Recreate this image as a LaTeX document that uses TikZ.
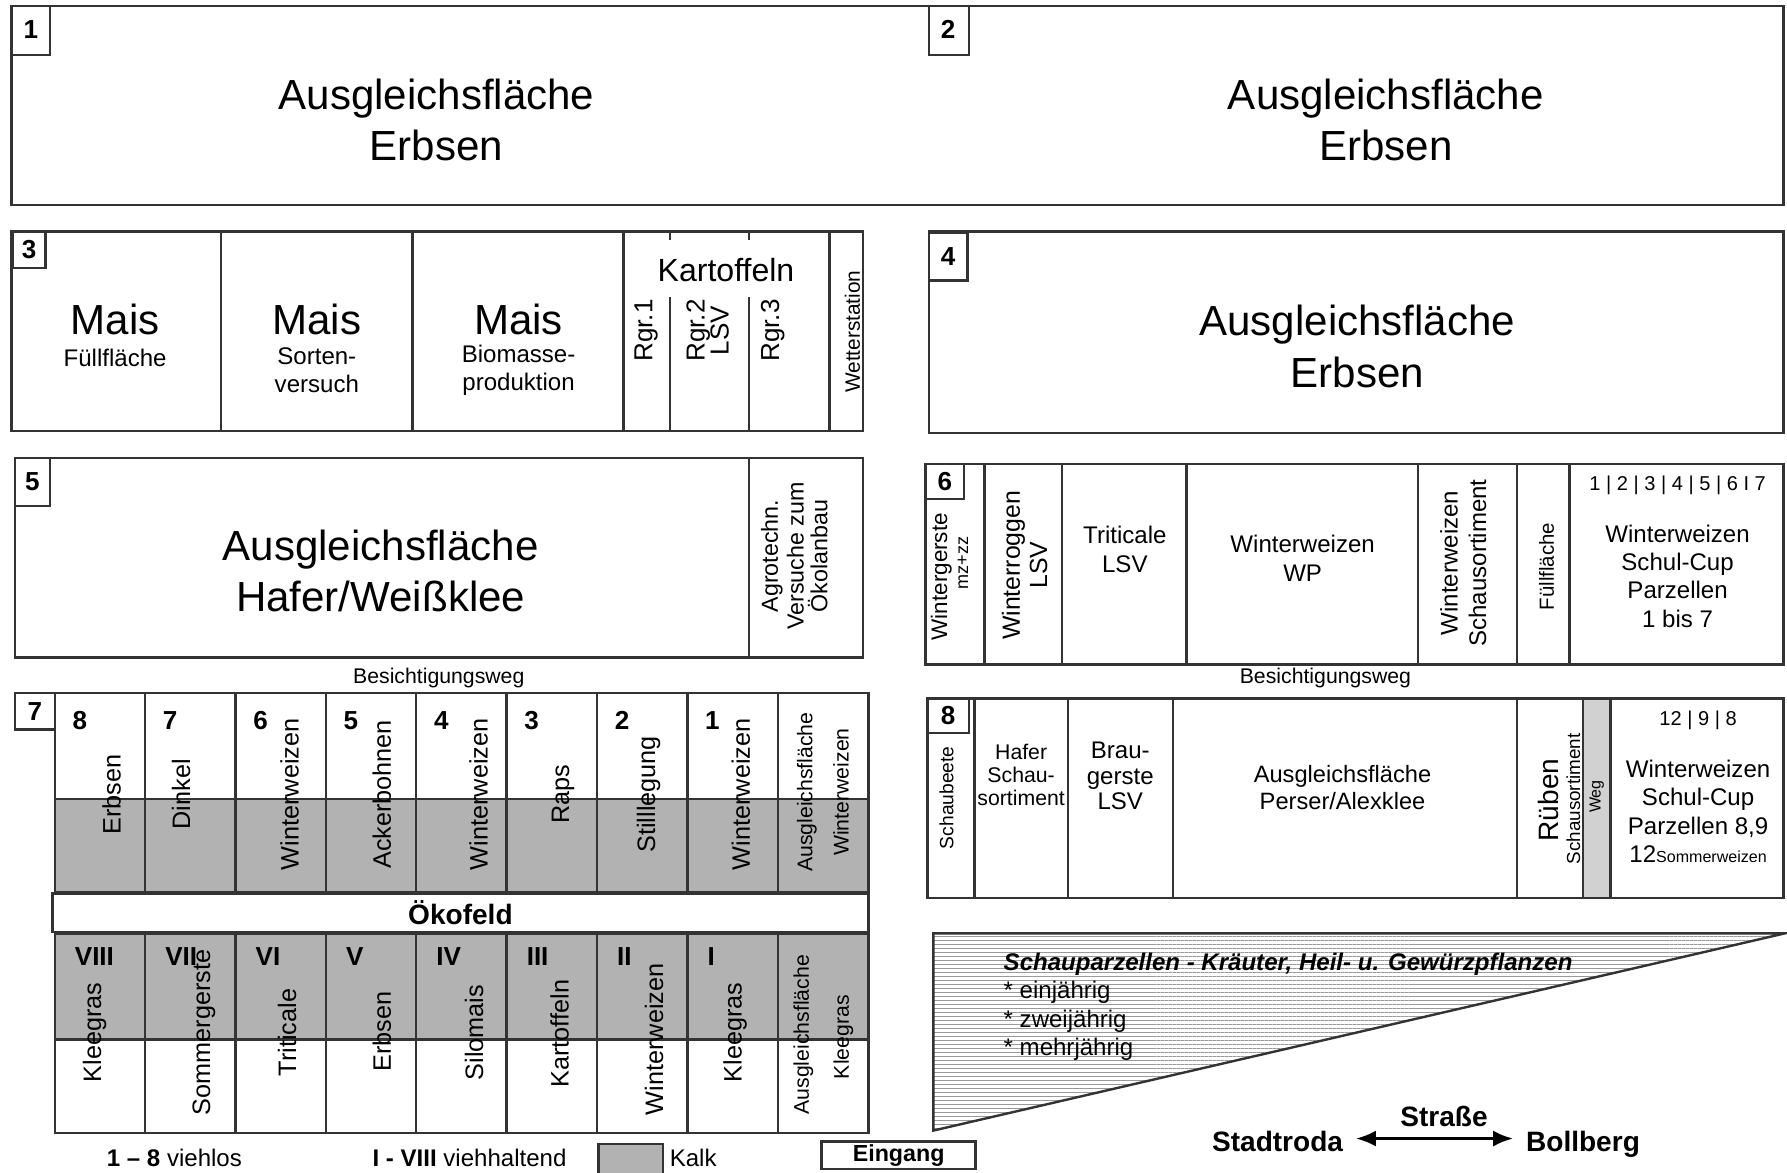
\documentclass[tikz,border=0pt]{standalone}
\usepackage{fontspec}
\setmainfont{Liberation Sans}
\usetikzlibrary{arrows.meta, patterns.meta}
\newcommand{\fsz}[2]{\fontsize{#1}{#2}\selectfont}

\begin{document}
\begin{tikzpicture}[x=0.01cm, y=-0.01cm,
  feld/.style={draw=black!80, line width=0.6pt},
  big/.style={font=\fsz{10.5}{12.8}, align=center, inner sep=0pt},
  txt/.style={font=\fsz{6}{7.1}, align=center, inner sep=0pt},
  vtxt/.style={txt, rotate=90},
  crop/.style={font=\fsz{6.3}{7}, rotate=90, inner sep=0pt},
  lbl/.style={font=\bfseries\fsz{6.5}{7}, inner sep=0pt},
  ort/.style={font=\bfseries\fsz{7}{8}, inner sep=3pt, text height=1.6ex, text depth=0.4ex}]

\useasboundingbox (0,0) rectangle (1568,1029);

% 1 and 2
\draw[feld] (10,5) rectangle (1565,180);
\draw[feld] (10,5) rectangle (44,48);
\node[lbl] (l1) at (27,26) {1};
\draw[feld] (815,5) rectangle (850,48);
\node[lbl] (l2) at (832,26) {2};
\node[big] (f1) at (383,105) {Ausgleichsfläche\\Erbsen};
\node[big] (f2) at (1216,105) {Ausgleichsfläche\\Erbsen};

% 3
\draw[feld] (10,203) rectangle (757,378);
\foreach \x in {194,362,547,728} \draw[feld] (\x,203) -- (\x,378);
\foreach \x in {588,657} {
  \draw[feld] (\x,203) -- (\x,211);
  \draw[feld] (\x,261) -- (\x,378);
}
\draw[feld] (11,203) rectangle (40,235);
\node[lbl] (l3) at (25.5,219) {3};
\node[big] (m1) at (101,280) {Mais};
\node[txt] (m1s) at (101,314) {Füllfläche};
\node[big] (m2) at (278,280) {Mais};
\node[txt] (m2s) at (278,325) {Sorten-\\versuch};
\node[big] (m3) at (455,280) {Mais};
\node[txt] (m3s) at (455,325) {Biomasse-\\produktion};
\node[font=\fsz{8}{9}, inner sep=0pt] (kart) at (637,237) {Kartoffeln};
\node[vtxt, font=\fsz{6.5}{6}] (rg1) at (567,290) {Rgr.1};
\node[vtxt, font=\fsz{6.5}{6}] (rg2) at (621,290) {Rgr.2\\LSV};
\node[vtxt, font=\fsz{6.5}{6}] (rg3) at (678,290) {Rgr.3};
\node[vtxt, font=\fsz{5.2}{6}] (wst) at (748,291) {Wetterstation};

% 4
\draw[feld] (815,203) rectangle (1565,380);
\draw[feld] (815,204) rectangle (849,246);
\node[lbl] (l4) at (832,225) {4};
\node[big] (f4) at (1191,304) {Ausgleichsfläche\\Erbsen};

% 5
\draw[feld] (13,402) rectangle (757,577);
\draw[feld] (657,402) -- (657,577);
\draw[feld] (13,402) rectangle (44,444);
\node[lbl] (l5) at (28.5,423) {5};
\node[big] (f5) at (334,501) {Ausgleichsfläche\\Hafer/Weißklee};
\node[vtxt, font=\fsz{5.8}{4.9}] (agro) at (697,488) {Agrotechn.\\Versuche zum\\Ökolanbau};

% 6
\draw[feld] (812,407) rectangle (1565,583);
\foreach \x in {864,932,1041,1244,1331,1377} \draw[feld] (\x,407) -- (\x,583);
\draw[feld] (812,407) rectangle (846,438);
\node[lbl] (l6) at (829,422.5) {6};
\node[vtxt, font=\fsz{5.6}{6}] (wg) at (826,506) {Wintergerste};
\node[vtxt, font=\fsz{4.5}{5}] (mz) at (845,494) {mz+zz};
\node[vtxt, font=\fsz{6.2}{6.8}] (wr) at (899,496) {Winterroggen\\LSV};
\node[txt] (tr) at (987,482) {Triticale\\LSV};
\node[txt] (wp) at (1143,490) {Winterweizen\\WP};
\node[vtxt, font=\fsz{6}{7.1}] (wsa) at (1284,494) {Winterweizen\\Schausortiment};
\node[vtxt, font=\fsz{5.1}{6}] (ff6) at (1357,497) {Füllfläche};
\node[txt, font=\fsz{5}{6}] (p17) at (1472,426) {1 | 2 | 3 | 4 | 5 | 6 I 7};
\node[txt] (sc6) at (1472,505.5) {Winterweizen\\Schul-Cup\\Parzellen\\1 bis 7};

% Wege
\node[txt, font=\fsz{5.3}{6}] (bw1) at (385,595) {Besichtigungsweg};
\node[txt, font=\fsz{5.3}{6}] (bw2) at (1163,595) {Besichtigungsweg};

% 7 Oekofeld
\fill[black!30] (48,701) rectangle (762,783);
\fill[black!30] (48,819) rectangle (762,912);
\draw[feld] (48,608) rectangle (762,994);
\foreach \i in {1,...,8} \draw[feld] ({48+79.3*\i},608) -- ({48+79.3*\i},994);
\foreach \y in {701,783,819,912} \draw[feld] (48,\y) -- (762,\y);
\draw[feld, fill=white] (46,784) rectangle (762,818);
\node[font=\bfseries\fsz{7}{8}, inner sep=0pt] (oeko) at (404,801) {Ökofeld};
\draw[feld] (13,608) rectangle (48,640);
\node[lbl] (l7) at (30.5,624) {7};
\foreach \n [count=\i from 0] in {8,7,6,5,4,3,2,1}
  \node[lbl] (a\n) at ({70+79.3*\i},632) {\n};
\foreach \x/\t [count=\i] in {98/Erbsen, 159/Dinkel, 254/Winterweizen, 335/Ackerbohnen,
    420/Winterweizen, 494/Raps, 569/Stilllegung, 650/Winterweizen}
  \node[crop] (ob\i) at (\x,697) {\t};
\node[crop, font=\fsz{5.3}{6}] (ob9) at (708,695) {Ausgleichsfläche};
\node[crop, font=\fsz{5.3}{6}] (ob10) at (738,695) {Winterweizen};
\foreach \r [count=\i from 0] in {VIII,VII,VI,V,IV,III,II,I}
  \node[lbl, anchor=west] (r\i) at ({65+79.3*\i},839) {\r};
\foreach \x/\y/\t [count=\i] in {83/906/Kleegras, 179/906/Sommergerste, 252/906/Triticale,
    335/905/Erbsen, 416/906/Silomais, 491/907/Kartoffeln, 574/912/Winterweizen, 645/906/Kleegras}
  \node[crop] (un\i) at (\x,\y) {\t};
\node[crop, font=\fsz{5.3}{6}] (un9) at (705,908) {Ausgleichsfläche};
\node[crop, font=\fsz{5.3}{6}] (un10) at (740,910) {Kleegras};

% Legende
\node[txt] (leg1) at (153,1016) {\textbf{1 \textendash{} 8} viehlos};
\node[txt] (leg2) at (412,1016) {\textbf{I - VIII} viehhaltend};
\draw[feld, fill=black!30] (525,1004) rectangle (582,1035);
\node[txt, anchor=west] (kalk) at (587,1016) {Kalk};
\node[draw=black!80, line width=0.6pt, font=\bfseries\fsz{5.8}{6}, minimum width=1.35cm,
  minimum height=0.24cm, inner sep=0pt] (eing) at (788.5,1013.5) {Eingang};

% 8
\fill[black!18] (1389,613) rectangle (1413,788);
\draw[feld] (814,613) rectangle (1565,788);
\foreach \x in {855,937,1029,1331,1389,1413} \draw[feld] (\x,613) -- (\x,788);
\draw[feld] (814,613) rectangle (850,643);
\node[lbl] (l8) at (832,628) {8};
\node[vtxt, font=\fsz{4.8}{5}] (sb) at (830.5,700) {Schaubeete};
\node[txt, font=\fsz{5.3}{5.7}] (hs) at (896,680) {Hafer\\Schau-\\sortiment};
\node[txt, font=\fsz{6}{6.4}] (bg) at (983,681) {Brau-\\gerste\\LSV};
\node[txt, font=\fsz{5.9}{6.5}] (pa) at (1178,691) {Ausgleichsfläche\\Perser/Alexklee};
\node[vtxt, font=\fsz{7}{8}] (rb) at (1359,702) {Rüben};
\node[vtxt, font=\fsz{4.7}{5}] (rbs) at (1380.5,701) {Schausortiment};
\node[vtxt, font=\fsz{4}{5}] (weg) at (1401,699) {Weg};
\node[txt, font=\fsz{5}{6}] (p12) at (1490,632) {12 | 9 | 8};
\node[txt] (sc8) at (1490,712) {Winterweizen\\Schul-Cup\\Parzellen 8,9\\12{\fsz{4}{5}Sommerweizen}};

% Schauparzellen
\fill[pattern={Lines[angle=0, distance=1pt, line width=0.35pt]}, pattern color=black!40]
  (819,819) -- (1566,819) -- (819,992) -- cycle;
\draw[feld] (819,819) -- (1566,819) -- (819,992) -- cycle;
\node[anchor=west, font=\bfseries\itshape\fsz{6}{7}, inner sep=0pt] (sp) at (880,846)
  {Schauparzellen - Kräuter, Heil- u. Gewürzpflanzen};
\node[anchor=west, txt, align=left] (jr) at (880,896) {* einjährig\\* zweijährig\\* mehrjährig};

% Strasse
\node[ort] (strasse) at (1267,977) {Straße};
\node[ort] (stadtroda) at (1121,999) {Stadtroda};
\node[ort] (bollberg) at (1389,999) {Bollberg};
\draw[{Latex[length=5pt,width=4pt]}-{Latex[length=5pt,width=4pt]}, line width=0.8pt]
  (stadtroda) -- (bollberg);
\end{tikzpicture}
\end{document}
